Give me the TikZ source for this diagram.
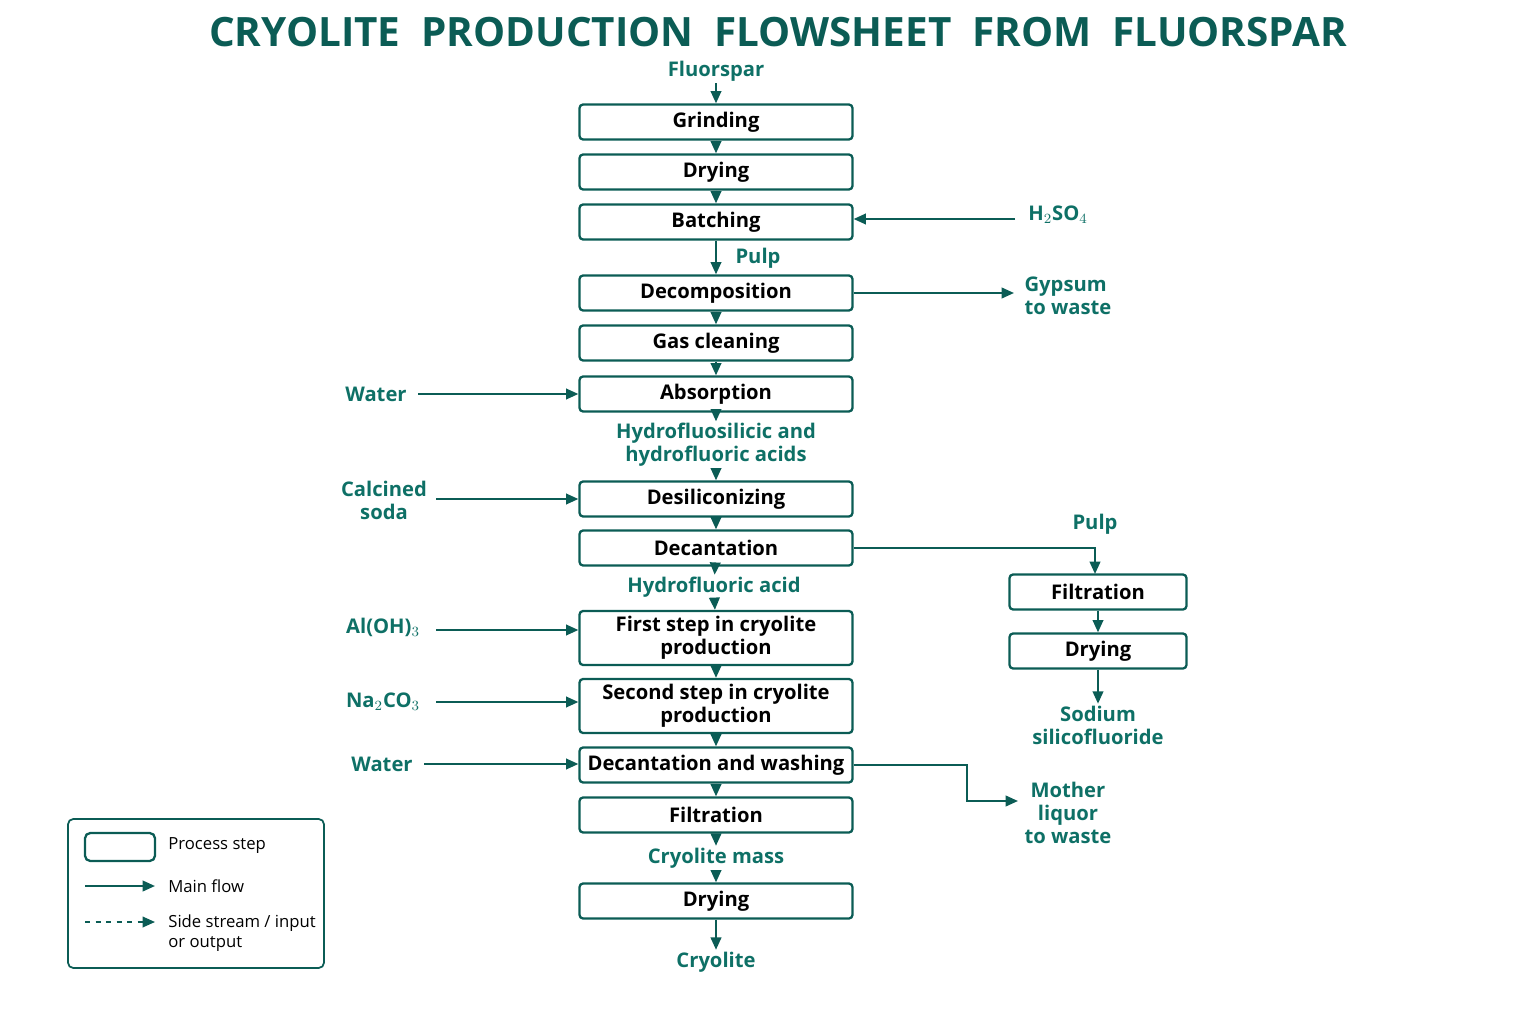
\documentclass[tikz,border=0pt]{standalone}
\usepackage{fontspec}
\setmainfont{Open Sans}
\usetikzlibrary{arrows.meta,positioning}
\definecolor{teal1}{HTML}{0B5C55}
\definecolor{teal2}{HTML}{0E7066}

\begin{document}
\begin{tikzpicture}[x=0.02cm, y=-0.02cm,
    proc/.style={rectangle, draw=teal1, line width=1.3pt, rounded corners=2pt, minimum width=5.46cm, minimum height=0.7cm, align=center, font=\fontsize{11.5}{13}\selectfont\bfseries, inner sep=1pt},
    sproc/.style={proc, minimum width=3.54cm},
    lbl/.style={text=teal2, font=\fontsize{11.5}{13}\selectfont\bfseries, align=center, inner sep=1pt},
    arrow/.style={-{Triangle[length=7pt,width=6pt]}, line width=1.2pt, draw=teal1},
    leg/.style={font=\fontsize{9.5}{11.5}\selectfont, align=left, anchor=west, inner sep=0pt}
]
    \useasboundingbox (0,0) rectangle (1536,1024);
    % Title
    \node[text=teal1, font=\fontsize{23}{26}\selectfont\bfseries] (title) at (778,32) {CRYOLITE\ \ PRODUCTION\ \ FLOWSHEET\ \ FROM\ \ FLUORSPAR};

    % Main column
    \node[lbl] (fluor) at (716,71) {Fluorspar};
    \node[proc] (grind) at (716,122) {Grinding};
    \node[proc] (dry1) at (716,172) {Drying};
    \node[proc] (batch) at (716,222) {Batching};
    \node[proc] (decomp) at (716,293) {Decomposition};
    \node[proc] (gas) at (716,343) {Gas cleaning};
    \node[proc] (absorb) at (716,394) {Absorption};
    \node[lbl] (acids) at (716,445) {Hydrofluosilicic and\\hydrofluoric acids};
    \node[proc] (desil) at (716,499) {Desiliconizing};
    \node[proc] (decant) at (716,548) {Decantation};
    \node[lbl] (hf) at (714,587) {Hydrofluoric acid};
    \node[proc, minimum height=1.08cm] (first) at (716,638) {First step in cryolite\\production};
    \node[proc, minimum height=1.08cm] (second) at (716,706) {Second step in cryolite\\production};
    \node[proc] (wash) at (716,765) {Decantation and washing};
    \node[proc] (filt1) at (716,815) {Filtration};
    \node[lbl] (mass) at (716,858) {Cryolite mass};
    \node[proc] (dry2) at (716,901) {Drying};
    \node[lbl] (cryo) at (716,962) {Cryolite};

    \foreach \a/\b in {fluor/grind, grind/dry1, dry1/batch, batch/decomp, decomp/gas, gas/absorb, absorb/acids, acids/desil, desil/decant, decant/hf, hf/first, first/second, second/wash, wash/filt1, filt1/mass, mass/dry2, dry2/cryo}
        \draw[arrow] (\a) -- (\b);
    \node[lbl] (pulp1) at (758,258) {Pulp};

    % Inputs and outputs
    \node[lbl] (h2so4) at (1058,215) {H$_2$SO$_4$};
    \coordinate (h2in) at (1015,219);
    \draw[arrow] (h2in) -- (batch.east |- h2in);
    \node[lbl, align=left] (gyp) at (1068,296) {Gypsum\\to waste};
    \coordinate (gypin) at (1014,293);
    \draw[arrow] (decomp.east) -- (gypin);
    \node[lbl] (water1) at (376,394) {Water};
    \coordinate (w1) at (418,394);
    \draw[arrow] (w1) -- (absorb.west);
    \node[lbl] (soda) at (384,500) {Calcined\\soda};
    \coordinate (s1) at (436,499);
    \draw[arrow] (s1) -- (desil.west);
    \node[lbl] (aloh) at (383,627) {Al(OH)$_3$};
    \coordinate (a1) at (436,630);
    \draw[arrow] (a1) -- (first.west |- a1);
    \node[lbl] (naco) at (383,702) {Na$_2$CO$_3$};
    \coordinate (n1) at (436,702);
    \draw[arrow] (n1) -- (second.west |- n1);
    \node[lbl] (water2) at (382,764) {Water};
    \coordinate (w2) at (424,764);
    \draw[arrow] (w2) -- (wash.west |- w2);
    \node[lbl] (mother) at (1068,813) {Mother\\liquor\\to waste};
    \coordinate (m1) at (1018,801);
    \draw[arrow] (wash.east) -| (967,801) -- (m1);

    % Side column
    \node[sproc] (filt2) at (1098,592) {Filtration};
    \node[sproc] (dry3) at (1098,651) {Drying};
    \node[lbl] (sodium) at (1098,725) {Sodium\\silicofluoride};
    \node[lbl] (pulp2) at (1095,524) {Pulp};
    \coordinate (f2top) at (1095,574);
    \draw[arrow] (decant.east) -| (f2top);
    \draw[arrow] (filt2) -- (dry3);
    \draw[arrow] (dry3) -- (sodium);

    % Legend
    \draw[teal1, line width=1pt, rounded corners=3pt] (68,819) rectangle (324,968);
    \draw[teal1, line width=1.3pt, rounded corners=3pt] (85,833) rectangle (155,861);
    \node[leg] (lg1) at (168,846) {Process step};
    \coordinate (la) at (85,886); \coordinate (lb) at (155,886);
    \draw[arrow] (la) -- (lb);
    \node[leg] (lg2) at (168,886) {Main flow};
    \coordinate (lc) at (85,922); \coordinate (ld) at (155,922);
    \draw[arrow, dashed, line width=1pt] (lc) -- (ld);
    \node[leg, anchor=north west] (lg3) at (168,914) {Side stream / input\\or output};
\end{tikzpicture}
\end{document}
